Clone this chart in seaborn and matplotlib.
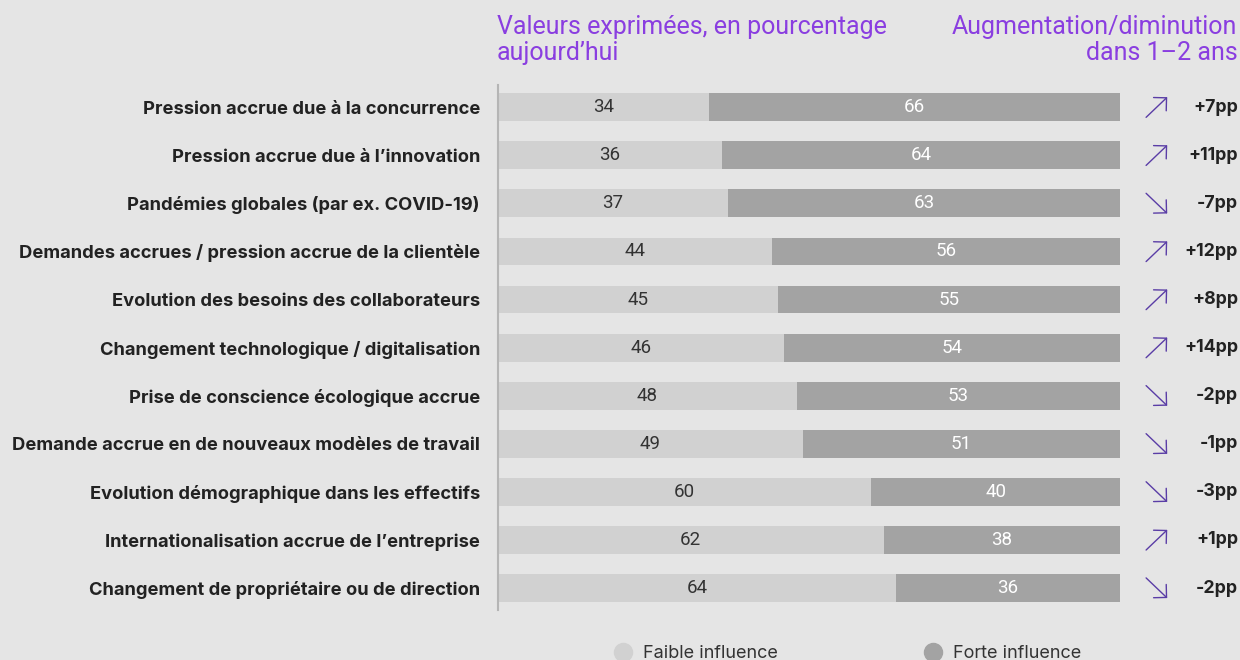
import pandas as pd
import matplotlib.pyplot as plt
import seaborn as sns
from matplotlib.lines import Line2D

# Data
categories = [
    "Pression accrue due à la concurrence",
    "Pression accrue due à l’innovation",
    "Pandémies globales (par ex. COVID-19)",
    "Demandes accrues / pression accrue de la clientèle",
    "Evolution des besoins des collaborateurs",
    "Changement technologique / digitalisation",
    "Prise de conscience écologique accrue",
    "Demande accrue en de nouveaux modèles de travail",
    "Evolution démographique dans les effectifs",
    "Internationalisation accrue de l’entreprise",
    "Changement de propriétaire ou de direction",
]
faible = [34, 36, 37, 44, 45, 46, 48, 49, 60, 62, 64]
forte = [66, 64, 63, 56, 55, 54, 53, 51, 40, 38, 36]
evolution = [7, 11, -7, 12, 8, 14, -2, -1, -3, 1, -2]

BG = "#e5e5e5"
LIGHT = "#d1d1d1"
DARK = "#a3a3a3"
PURPLE = "#8a3ee0"
ARROW = "#5a3da6"
BOLD_FONT = ["Inter", "DejaVu Sans"]

sns.set_theme(style="white")
plt.rcParams["font.family"] = ["Roboto", "DejaVu Sans"]

df = pd.DataFrame({"cat": categories, "faible": faible, "forte": forte})
df["total"] = 100

fig = plt.figure(figsize=(12.4, 6.6), dpi=100, facecolor=BG)
ax = fig.add_axes([0.4016, 0.0758, 0.5016, 0.795])
ax.set_facecolor(BG)

sns.barplot(data=df, y="cat", x="total", color=DARK, orient="h", width=0.58,
            saturation=1, linewidth=0, ax=ax)
sns.barplot(data=df, y="cat", x="faible", color=LIGHT, orient="h", width=0.58,
            saturation=1, linewidth=0, ax=ax)

ax.set_xlim(0, 100)
ax.set_ylim(10.457, -0.457)
ax.set_xlabel("")
ax.set_ylabel("")
ax.set_xticks([])
ax.tick_params(axis="y", length=0, pad=13)
for lbl in ax.get_yticklabels():
    lbl.set_fontweight("bold")
    lbl.set_fontsize(13.2)
    lbl.set_family(BOLD_FONT)
    lbl.set_color("#222222")

for s in ["top", "right", "bottom"]:
    ax.spines[s].set_visible(False)
ax.spines["left"].set_color("#b5b5b5")
ax.spines["left"].set_linewidth(1.5)

tr = ax.get_yaxis_transform()
for i, (f, g, e) in enumerate(zip(faible, forte, evolution)):
    ax.text(f / 2, i, str(f), ha="center", va="center", fontsize=13.5, color="#333333")
    ax.text(f + (100 - f) / 2, i, str(g), ha="center", va="center", fontsize=13.5, color="white")
    if e > 0:
        start, end = (1.042, i + 0.21), (1.076, i - 0.21)
    else:
        start, end = (1.042, i - 0.21), (1.076, i + 0.21)
    ax.annotate("", xy=end, xytext=start, xycoords=tr, textcoords=tr,
                arrowprops=dict(arrowstyle="->,head_length=0.55,head_width=0.55",
                                color=ARROW, lw=1.0, shrinkA=0, shrinkB=0))
    ax.text(1.190, i, f"{e:+d}pp", transform=tr, ha="right", va="center",
            fontsize=12.8, fontweight="bold", family=BOLD_FONT, color="#222222")

fig.text(0.4008, 0.978, "Valeurs exprimées, en pourcentage\naujourd’hui", ha="left", va="top",
         fontsize=18, color=PURPLE, linespacing=1.15)
fig.text(0.998, 0.978, "Augmentation/diminution\ndans 1–2 ans", ha="right", va="top",
         fontsize=18, color=PURPLE, linespacing=1.15, multialignment="right")

handles = [
    Line2D([], [], marker="o", ls="", markersize=13, color=LIGHT, label="Faible influence"),
    Line2D([], [], marker="o", ls="", markersize=13, color=DARK, label="Forte influence"),
]
fig.legend(handles=handles, loc="center", bbox_to_anchor=(0.68, 0.01), ncol=2,
           frameon=False, prop={"family": BOLD_FONT, "size": 13}, columnspacing=7.6,
           handletextpad=0.1, labelcolor="#333333")

fig.savefig("out.png", dpi=100, facecolor=BG)
